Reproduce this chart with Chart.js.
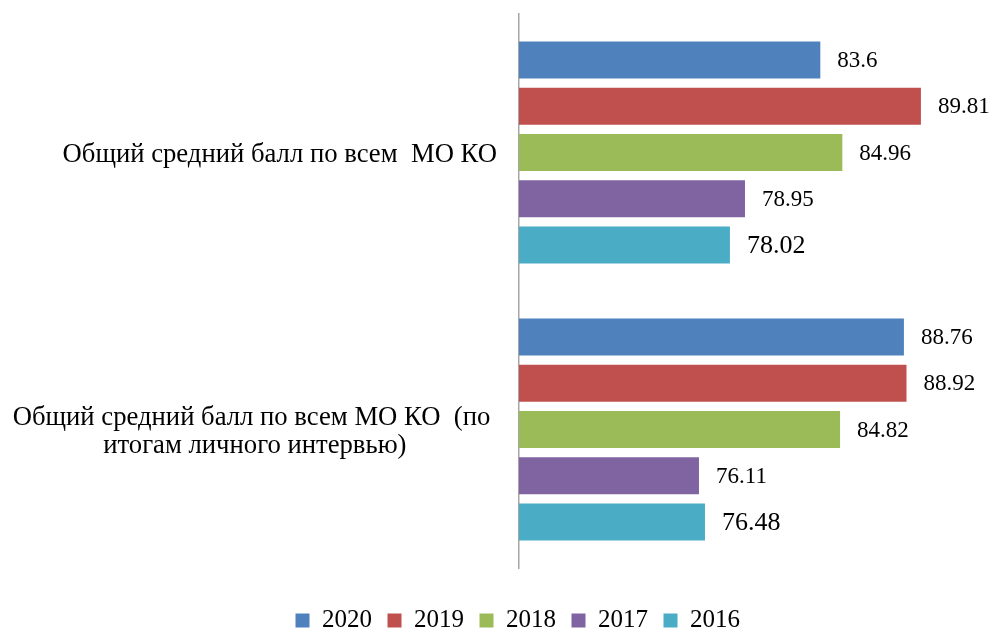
<!DOCTYPE html>
<html>
<head>
<meta charset="utf-8">
<script src="https://cdn.jsdelivr.net/npm/chart.js@4/dist/chart.umd.min.js"></script>
<style>
  html, body { margin: 0; padding: 0; overflow: hidden; background: #fff; }
  #wrap { width: 992px; height: 643px; position: relative; }
</style>
</head>
<body>
<div id="wrap"><canvas id="chart"></canvas></div>
<script>
// categories (multi-line labels, wrapped as in the original)
const categories = [
	["Общий средний балл по всем  МО КО"],
	["Общий средний балл по всем МО КО  (по ", "итогам личного интервью)"]
];
const years = ["2020", "2019", "2018", "2017", "2016"];
const values2020 = [83.6, 88.76];
const values2019 = [89.81, 88.92];
const values2018 = [84.96, 84.82];
const values2017 = [78.95, 76.11];
const values2016 = [78.02, 76.48];

const series = [values2020, values2019, values2018, values2017, values2016];
const colors = ["#4f81bd", "#c0504d", "#9bbb59", "#8064a2", "#4bacc6"];
const FONT = "'Liberation Serif', 'Times New Roman', serif";

var datasets = years.map(function(y, i) {
	return {
		label: y,
		data: series[i],
		backgroundColor: colors[i],
		borderWidth: 0,
		barPercentage: 0.8,
		categoryPercentage: 0.835
	};
});

// value labels at the end of every bar
var valueLabels = {
	id: 'valueLabels',
	afterDatasetsDraw: function(chart) {
		var ctx = chart.ctx;
		ctx.save();
		ctx.fillStyle = '#000';
		ctx.textAlign = 'left';
		ctx.textBaseline = 'middle';
		chart.data.datasets.forEach(function(ds, di) {
			var meta = chart.getDatasetMeta(di);
			var size = ds.label === '2016' ? 26 : 23;
			ctx.font = size + 'px ' + FONT;
			meta.data.forEach(function(bar, i) {
				ctx.fillText(String(ds.data[i]), bar.x + 17, bar.y + 1);
			});
		});
		ctx.restore();
	}
};

// category labels left of the axis
var categoryLabels = {
	id: 'categoryLabels',
	afterDraw: function(chart) {
		var ctx = chart.ctx;
		var yScale = chart.scales.y;
		ctx.save();
		ctx.fillStyle = '#000';
		ctx.font = '26.7px ' + FONT;
		ctx.textAlign = 'center';
		ctx.textBaseline = 'middle';
		var lineH = 28;
		chart.data.labels.forEach(function(lbl, i) {
			var lines = Array.isArray(lbl) ? lbl : [lbl];
			var widest = 0;
			lines.forEach(function(l) { widest = Math.max(widest, ctx.measureText(l).width); });
			var cx = chart.chartArea.left - 22 - widest / 2;
			var cy = yScale.getPixelForTick(i);
			var top = cy - (lines.length - 1) * lineH / 2;
			lines.forEach(function(l, k) {
				ctx.fillText(l, cx, top + k * lineH + 2);
			});
		});
		ctx.restore();
	}
};

var ctx = document.getElementById('chart').getContext('2d');
window.myBar = new Chart(ctx, {
	type: 'bar',
	data: { labels: categories, datasets: datasets },
	options: {
		indexAxis: 'y',
		responsive: true,
		maintainAspectRatio: false,
		animation: false,
		layout: { padding: { top: 14, right: 68, left: 280, bottom: 0 } },
		scales: {
			x: {
				min: 65,
				max: 90,
				ticks: { display: false },
				grid: { display: false },
				border: { display: false },
				afterFit: function(scale) { scale.height = 24.5; }
			},
			y: {
				ticks: { display: false },
				grid: { display: false },
				border: { display: true, color: '#a6a6a6', width: 1.5 },
				afterFit: function(scale) { scale.width = 239; }
			}
		},
		plugins: {
			tooltip: { enabled: false },
			legend: {
				position: 'bottom',
				align: 'start',
				labels: {
					boxWidth: 14,
					boxHeight: 14,
					padding: 15.5,
					color: '#000',
					font: { family: FONT, size: 25 }
				}
			}
		}
	},
	plugins: [valueLabels, categoryLabels]
});
</script>
</body>
</html>
